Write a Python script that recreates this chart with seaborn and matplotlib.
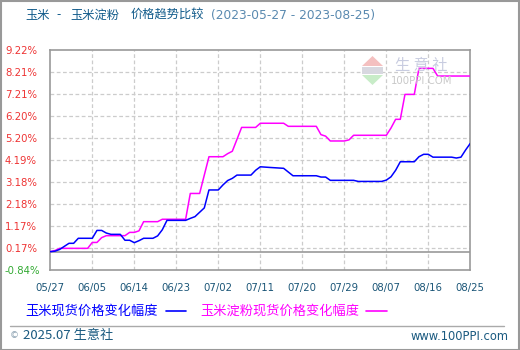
import numpy as np
import pandas as pd
import matplotlib
matplotlib.use("Agg")
import matplotlib.pyplot as plt
from matplotlib.patches import Polygon, Rectangle
from matplotlib.lines import Line2D
import seaborn as sns

sns.set_theme(style="white")
plt.rcParams['font.family'] = ['Noto Sans CJK SC', 'DejaVu Sans']

start_date = "2023-05-27"
# day offsets from start date and % change values
corn_days = [0, 1, 2, 4, 5, 6, 9, 10, 11, 12, 13, 15, 16, 17, 18, 19, 20, 22, 23, 24, 25,
             29, 30, 31, 32, 33, 34, 36, 37, 38, 39, 40, 43, 44, 45, 47, 50, 52, 57, 58, 59, 60,
             65, 66, 71, 72, 73, 74, 75, 78, 79, 80, 81, 82, 86, 87, 88, 89, 90]
corn_vals = [0.00, 0.02, 0.10, 0.38, 0.38, 0.61, 0.61, 0.97, 0.97, 0.85, 0.79, 0.79, 0.52, 0.52, 0.41, 0.50, 0.61, 0.61, 0.72, 1.00, 1.43,
             1.43, 1.52, 1.60, 1.80, 2.00, 2.82, 2.82, 3.05, 3.25, 3.35, 3.50, 3.50, 3.72, 3.88, 3.85, 3.81, 3.47, 3.47, 3.41, 3.41, 3.26,
             3.26, 3.21, 3.21, 3.27, 3.42, 3.72, 4.11, 4.11, 4.34, 4.45, 4.45, 4.32, 4.32, 4.28, 4.32, 4.65, 4.95]
starch_days = [0, 1, 2, 8, 9, 10, 11, 12, 16, 17, 18, 19, 20, 23, 24, 29, 30, 32, 34, 37, 38, 39, 41,
               44, 45, 50, 51, 57, 58, 59, 60, 63, 64, 65, 72, 73, 74, 75, 76, 78, 79, 82, 83, 90]
starch_vals = [0.00, 0.05, 0.15, 0.15, 0.42, 0.42, 0.64, 0.73, 0.73, 0.88, 0.88, 0.95, 1.37, 1.37, 1.48, 1.48, 2.66, 2.66, 4.34, 4.34, 4.48, 4.59, 5.68,
               5.68, 5.87, 5.87, 5.73, 5.73, 5.35, 5.28, 5.06, 5.06, 5.11, 5.32, 5.32, 5.65, 6.05, 6.05, 7.19, 7.19, 8.38, 8.38, 8.03, 8.03]

x_tick_labels = ["05/27", "06/05", "06/14", "06/23", "07/02", "07/11", "07/20", "07/29", "08/07", "08/16", "08/25"]
y_ticks = [-0.84, 0.17, 1.17, 2.18, 3.18, 4.19, 5.20, 6.20, 7.21, 8.21, 9.22]
y_tick_labels = ["-0.84%", "0.17%", "1.17%", "2.18%", "3.18%", "4.19%", "5.20%", "6.20%", "7.21%", "8.21%", "9.22%"]

s0 = pd.Timestamp(start_date)
df_corn = pd.DataFrame({"date": s0 + pd.to_timedelta(corn_days, unit="D"), "val": corn_vals})
df_starch = pd.DataFrame({"date": s0 + pd.to_timedelta(starch_days, unit="D"), "val": starch_vals})
tick_dates = [pd.Timestamp("2023-" + t.replace("/", "-")) for t in x_tick_labels]

W, H = 520, 350
fig = plt.figure(figsize=(W / 100, H / 100), dpi=100)
fig.patch.set_facecolor("white")
ax = fig.add_axes([50.3 / W, 1 - 270 / H, 420 / W, 220 / H])

# grid
for yv in y_ticks[1:-1]:
    ax.axhline(yv, color="#cccccc", lw=0.9, ls=(0, (3, 2)), zorder=0)
for d in tick_dates[1:-1]:
    ax.axvline(d, color="#cccccc", lw=0.9, ls=(0, (3, 2)), zorder=0)
ax.axhline(0, color="#999999", lw=1.2, zorder=1)

sns.lineplot(data=df_starch, x="date", y="val", color="#ff00ff", lw=1.1, ax=ax, zorder=3)
sns.lineplot(data=df_corn, x="date", y="val", color="#0000ff", lw=1.1, ax=ax, zorder=4)

ax.set_xlim(tick_dates[0], tick_dates[-1])
ax.set_ylim(y_ticks[0], y_ticks[-1])
ax.set_xticks(tick_dates)
ax.set_xticklabels(x_tick_labels, family="DejaVu Sans", fontsize=7.3, color="#1a5577")
ax.set_yticks(y_ticks)
ax.set_yticklabels(y_tick_labels, family="DejaVu Sans", fontsize=7.3, ha="left")
for lbl, v in zip(ax.get_yticklabels(), y_ticks):
    lbl.set_color("#33aa33" if v < 0 else "#ee3333")
ax.tick_params(axis="x", length=0, pad=9.5)
ax.tick_params(axis="y", length=0, pad=(50.3 - 5) * 0.72)
ax.set_xlabel("")
ax.set_ylabel("")
for sp in ax.spines.values():
    sp.set_color("#999999")
    sp.set_linewidth(1.2)

# title
ty = 1 - 15 / H
tc = "#105a8a"
fig.text(25 / W, ty, "玉米", color=tc, fontsize=8.8, va="center", ha="left")
fig.text(56 / W, ty, "-", color=tc, fontsize=8.8, va="center", ha="left")
fig.text(70 / W, ty, "玉米淀粉", color=tc, fontsize=8.8, va="center", ha="left")
fig.text(131 / W, ty, "价格趋势比较", color=tc, fontsize=8.8, va="center", ha="left")
fig.text(211 / W, ty, "(2023-05-27 - 2023-08-25)", color="#5a8ab0", fontsize=8.8, va="center", ha="left", family="DejaVu Sans")

# legend
fig.text(25 / W, 1 - 311 / H, "玉米现货价格变化幅度", color="#0000ff", fontsize=9.5, va="center", ha="left")
fig.add_artist(Line2D([166 / W, 186 / W], [1 - 311 / H] * 2, color="#0000ff", lw=1.2))
fig.text(200 / W, 1 - 311 / H, "玉米淀粉现货价格变化幅度", color="#ff00ff", fontsize=9.5, va="center", ha="left")
fig.add_artist(Line2D([366 / W, 387 / W], [1 - 311 / H] * 2, color="#ff00ff", lw=1.2))

# footer
fig.add_artist(Line2D([10 / W, 504 / W], [1 - 326 / H] * 2, color="#aaaaaa", lw=1))
fig.text(10 / W, 1 - 336 / H, "©", color="#8aa0b0", fontsize=6.5, va="center", ha="left", family="DejaVu Sans")
fig.text(23 / W, 1 - 336 / H, "2025.07 生意社", color="#1a5a80", fontsize=9.5, va="center", ha="left")
fig.text(509 / W, 1 - 336 / H, "www.100PPI.com", color="#1a5a80", fontsize=8.3, va="center", ha="right", family="DejaVu Sans")

# watermark
fig.add_artist(Polygon([[362 / W, 1 - 66 / H], [383 / W, 1 - 66 / H], [372.5 / W, 1 - 56 / H]],
                       closed=True, facecolor="#f4c0c0", edgecolor="none", transform=fig.transFigure))
fig.add_artist(Rectangle((362 / W, 1 - 74 / H), 21 / W, 7 / H, facecolor="#d8d8e0", edgecolor="none", transform=fig.transFigure))
fig.add_artist(Polygon([[362 / W, 1 - 75 / H], [383 / W, 1 - 75 / H], [372.5 / W, 1 - 85 / H]],
                       closed=True, facecolor="#c8ecc8", edgecolor="none", transform=fig.transFigure))
fig.text(421 / W, 1 - 65.5 / H, "生 意 社", color="#c8cce0", fontsize=11, va="center", ha="center")
fig.text(422 / W, 1 - 81 / H, "100PPI.COM", color="#c8c8c8", fontsize=7.3, va="center", ha="center", family="DejaVu Sans")

# outer border
fig.add_artist(Rectangle((0.5 / W, 0.5 / H), (W - 1.5) / W, (H - 1.5) / H, fill=False, edgecolor="#999999", lw=1.5, transform=fig.transFigure))

fig.savefig("out.png", dpi=100, facecolor="white")
